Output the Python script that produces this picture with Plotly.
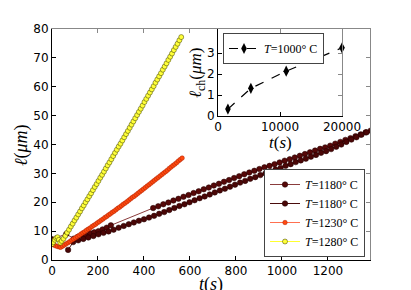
import plotly.graph_objects as go

# ---------------- data ----------------
# T = 1280 C (yellow)
t_1280 = [0, 6, 12, 18, 24, 30, 36, 42, 50, 58, 66, 74, 82, 90, 98, 106, 114, 122, 130, 138, 146,
          154, 162, 170, 178, 186, 194, 202, 210, 218, 226, 234, 242, 250, 258, 266, 274, 282, 290,
          298, 306, 314, 322, 330, 338, 346, 354, 362, 370, 378, 386, 394, 402, 410, 418, 426, 434,
          442, 450, 458, 466, 474, 482, 490, 498, 506, 514, 522, 530, 538, 546, 554, 562]
l_1280 = [5.5, 6.2, 7.0, 7.6, 7.9, 7.0, 6.0, 6.6, 7.4, 8.4, 9.5, 10.5, 11.6, 12.6, 13.7, 14.7, 15.8,
          16.8, 17.9, 18.9, 20.0, 21.0, 22.1, 23.1, 24.2, 25.3, 26.3, 27.4, 28.5, 29.5, 30.6, 31.7,
          32.8, 33.8, 34.9, 36.0, 37.1, 38.2, 39.3, 40.3, 41.4, 42.5, 43.6, 44.7, 45.8, 46.9, 48.0,
          49.1, 50.2, 51.3, 52.4, 53.5, 54.7, 55.8, 56.9, 58.0, 59.1, 60.2, 61.4, 62.5, 63.6, 64.7,
          65.9, 67.0, 68.1, 69.3, 70.4, 71.5, 72.7, 73.8, 74.9, 76.1, 77.2]

# T = 1230 C (orange)
t_1230 = [0, 8, 16, 24, 32, 38, 46, 54, 62, 70, 78, 86, 94, 102, 110, 118, 126, 134, 142, 150, 158,
          166, 174, 182, 190, 198, 206, 214, 222, 230, 238, 246, 254, 262, 270, 278, 286, 294, 302,
          310, 318, 326, 334, 342, 350, 358, 366, 374, 382, 390, 398, 406, 414, 422, 430, 438, 446,
          454, 462, 470, 478, 486, 494, 502, 510, 518, 526, 534, 542, 550, 558, 566]
l_1230 = [5.5, 5.2, 4.9, 4.7, 4.5, 4.4, 4.8, 5.2, 5.6, 6.0, 6.4, 6.9, 7.3, 7.7, 8.1, 8.5, 9.0, 9.4,
          9.8, 10.3, 10.7, 11.1, 11.6, 12.0, 12.4, 12.9, 13.3, 13.8, 14.2, 14.7, 15.1, 15.6, 16.0,
          16.5, 16.9, 17.4, 17.9, 18.3, 18.8, 19.3, 19.7, 20.2, 20.7, 21.2, 21.7, 22.1, 22.6, 23.1,
          23.6, 24.1, 24.6, 25.1, 25.6, 26.1, 26.6, 27.1, 27.6, 28.1, 28.6, 29.1, 29.6, 30.1, 30.6,
          31.1, 31.7, 32.2, 32.7, 33.2, 33.7, 34.3, 34.8, 35.3]

# T = 1180 C, run A (upper, with a gap in sampling)
t_1180a = [0, 62, 95, 112, 130, 148, 166, 184, 202, 220, 238, 256,
           440, 462, 484, 506, 528, 550, 572, 594, 616, 638, 660, 682, 704, 726, 748, 770, 792,
           814, 836, 858, 880, 902, 924, 946, 968, 990, 1012, 1034, 1056, 1078, 1100, 1122, 1144,
           1166, 1188, 1210, 1232, 1254, 1276, 1298, 1320, 1342, 1364, 1386]
l_1180a = [7.2, 9.0, 7.4, 8.0, 8.6, 8.5, 9.3, 9.6, 10.0, 10.6, 11.2, 12.0,
           18.0, 18.6, 19.3, 19.9, 20.6, 21.2, 21.9, 22.5, 23.2, 23.8, 24.5, 25.1, 25.8, 26.4,
           27.1, 27.7, 28.4, 29.0, 29.7, 30.3, 30.9, 31.5, 32.1, 32.6, 33.2, 33.8, 34.4, 34.9,
           35.5, 36.1, 36.7, 37.3, 37.9, 38.5, 39.0, 39.6, 40.3, 40.9, 41.6, 42.2, 42.9, 43.5,
           44.2, 44.8]

# T = 1180 C, run B (lower)
t_1180b = [70, 92, 114, 136, 158, 180, 202, 224, 246, 268, 290, 312, 334, 356, 378, 400, 422, 444,
           466, 488, 510, 532, 554, 576, 598, 620, 642, 664, 686, 708, 730, 752, 774, 796, 818, 840,
           862, 884, 906, 928, 950, 972, 994, 1016, 1038, 1060, 1082, 1104, 1126, 1148, 1170, 1192,
           1214, 1236, 1258, 1280, 1302, 1324, 1346, 1368]
l_1180b = [3.5, 6.2, 6.8, 7.3, 7.8, 8.3, 8.9, 9.4, 9.9, 10.5, 11.2, 11.8, 12.4, 13.0, 13.6, 14.1,
           14.7, 15.3, 16.0, 16.6, 17.3, 18.0, 18.7, 19.3, 20.0, 20.7, 21.4, 22.0, 22.7, 23.4, 24.1,
           24.7, 25.4, 26.1, 26.8, 27.4, 28.1, 28.7, 29.4, 30.0, 30.7, 31.3, 31.9, 32.6, 33.2, 33.9,
           34.5, 35.1, 35.8, 36.4, 37.1, 37.7, 38.4, 39.2, 40.0, 40.9, 41.7, 42.5, 43.4, 44.2]

# inset: T = 1000 C
t_1000 = [1600, 5300, 11000, 20000]
lch_1000 = [0.33, 1.32, 2.14, 3.25]

x_ticks = [0, 200, 400, 600, 800, 1000, 1200]
y_ticks = [0, 10, 20, 30, 40, 50, 60, 70, 80]
inset_x_ticks = [0, 10000, 20000]
inset_x_labels = ["0", "10000", "20000"]
inset_y_ticks = [0, 1, 2, 3]

names = ["<i>T</i>=1180° C", "<i>T</i>=1180° C", "<i>T</i>=1230° C", "<i>T</i>=1280° C"]

# ---------------- figure ----------------
W, H = 411, 290
L, R, T, B = 52, 370, 29, 260          # main plot area in pixels
PW, PH = R - L, B - T


def px(x):
    return (x - L) / PW


def py(y):
    return (B - y) / PH


fig = go.Figure()

fig.add_trace(go.Scatter(x=t_1180a, y=l_1180a, mode="lines+markers", name=names[0],
                         line=dict(color="#8a3c3c", width=1),
                         marker=dict(symbol="circle", size=5.5, color="#560808",
                                     line=dict(color="#200000", width=0.5))))
fig.add_trace(go.Scatter(x=t_1180b, y=l_1180b, mode="lines+markers", name=names[1],
                         line=dict(color="#4a0c0c", width=1),
                         marker=dict(symbol="circle", size=5.5, color="#4a0606",
                                     line=dict(color="#200000", width=0.5))))
fig.add_trace(go.Scatter(x=t_1230, y=l_1230, mode="lines+markers", name=names[2],
                         line=dict(color="#ff7050", width=1),
                         marker=dict(symbol="circle", size=4.5, color="#ff4a10",
                                     line=dict(color="#b02000", width=0.5))))
fig.add_trace(go.Scatter(x=t_1280, y=l_1280, mode="lines+markers", name=names[3],
                         line=dict(color="#ffff30", width=1),
                         marker=dict(symbol="circle", size=5, color="#ffff38",
                                     line=dict(color="#3a3a00", width=0.5))))

# inset
fig.add_trace(go.Scatter(x=t_1000, y=lch_1000, mode="lines+markers", name="<i>T</i>=1000° C",
                         xaxis="x2", yaxis="y2", legend="legend2", cliponaxis=False,
                         line=dict(color="black", width=1.2, dash="dash"),
                         marker=dict(symbol="diamond-tall", size=8, color="black")))

# dummy traces for gray top/right spines
fig.add_trace(go.Scatter(x=[None], y=[None], xaxis="x3", yaxis="y3", showlegend=False,
                         hoverinfo="skip"))
fig.add_trace(go.Scatter(x=[None], y=[None], xaxis="x4", yaxis="y4", showlegend=False,
                         hoverinfo="skip"))

ins_x = [px(218), px(342)]
ins_y = [py(116), py(29)]

tickfont = dict(family="DejaVu Sans", size=12, color="black")
common = dict(showgrid=False, zeroline=False, ticks="inside", ticklen=4, tickwidth=1,
              showline=True, linewidth=1, automargin=False)

fig.update_layout(
    width=W, height=H, margin=dict(l=L, r=W - R, t=T, b=H - B, autoexpand=False),
    paper_bgcolor="white", plot_bgcolor="white",
    xaxis=dict(domain=[0, 1], anchor="y", range=[0, 1383], tickvals=x_ticks,
               linecolor="black", tickcolor="black", tickfont=tickfont, **common),
    yaxis=dict(domain=[0, 1], anchor="x", range=[0, 80], tickvals=y_ticks,
               linecolor="black", tickcolor="black", tickfont=tickfont, **common),
    xaxis3=dict(overlaying="x", matches="x", side="top", anchor="y3", tickvals=x_ticks,
                showticklabels=False, linecolor="#888", tickcolor="#888", **common),
    yaxis3=dict(overlaying="y", matches="y", side="right", anchor="x3", tickvals=y_ticks,
                showticklabels=False, linecolor="#888", tickcolor="#888", **common),
    xaxis2=dict(domain=ins_x, anchor="y2", range=[0, 20000], tickvals=inset_x_ticks,
                ticktext=inset_x_labels,
                linecolor="black", tickcolor="black", tickfont=tickfont, **common),
    yaxis2=dict(domain=ins_y, anchor="x2", range=[0, 4.15], tickvals=inset_y_ticks,
                linecolor="black", tickcolor="black", tickfont=tickfont, **common),
    xaxis4=dict(overlaying="x2", matches="x2", side="top", anchor="y4", tickvals=inset_x_ticks,
                showticklabels=False, linecolor="#888", tickcolor="#888", **common),
    yaxis4=dict(overlaying="y2", matches="y2", side="right", anchor="x4", tickvals=inset_y_ticks,
                showticklabels=False, linecolor="#888", tickcolor="#888", **common),
    legend=dict(x=px(365), xanchor="right", y=py(257), yanchor="bottom",
                bgcolor="white", bordercolor="#444", borderwidth=1,
                font=dict(family="Liberation Serif", size=12, color="black")),
    legend2=dict(x=px(223), xanchor="left", y=py(33), yanchor="top",
                 bgcolor="white", bordercolor="#444", borderwidth=1,
                 font=dict(family="Liberation Serif", size=12, color="black")),
    showlegend=True,
)

serif = dict(family="Liberation Serif", color="black")
fig.add_annotation(text="<i>ℓ</i>(<i>μm</i>)", x=px(21), y=py(145), xref="paper", yref="paper",
                   xanchor="center", yanchor="middle",
                   showarrow=False, textangle=-90, font=dict(size=18, **serif))
fig.add_annotation(text="<i>t</i>(<i>s</i>)", x=px(211), y=py(284), xref="paper", yref="paper",
                   xanchor="center", yanchor="middle",
                   showarrow=False, font=dict(size=18, **serif))
fig.add_annotation(text="<i>ℓ</i><sub>ch</sub>(<i>μm</i>)", x=px(197), y=py(73),
                   xref="paper", yref="paper", showarrow=False, textangle=-90,
                   xanchor="center", yanchor="middle",
                   font=dict(size=17, **serif))
fig.add_annotation(text="<i>t</i>(<i>s</i>)", x=px(280), y=py(142), xref="paper", yref="paper",
                   xanchor="center", yanchor="middle",
                   showarrow=False, font=dict(size=17, **serif))

fig.write_html("out.html", config={"displayModeBar": False},
               post_script="document.body.style.margin='0';document.body.style.padding='0';")
